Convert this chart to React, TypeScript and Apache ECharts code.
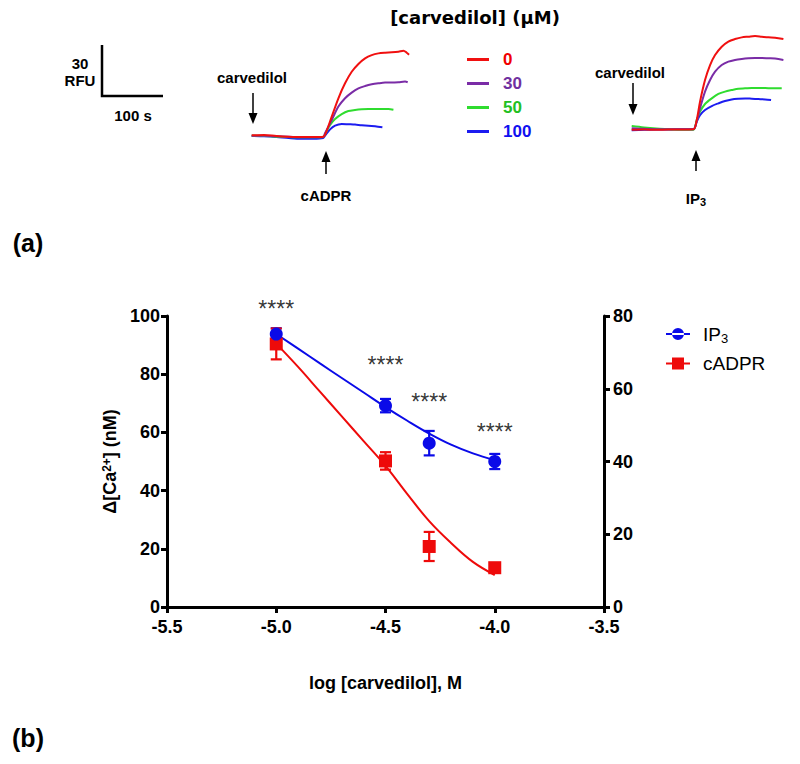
import React, { useEffect, useRef } from "react";
import * as echarts from "echarts";

// ---------- Panel (b): dose-response ----------
const logConc = [-5.0, -4.5, -4.3, -4.0];
const ip3Mean = [93.8, 69.2, 56.3, 50.0];
const ip3Sem = [2.0, 2.3, 4.2, 2.6];
const cadprMean = [90.4, 50.2, 20.8, 13.5];
const cadprSem = [5.3, 3.0, 5.0, 1.0];
const fitX = [-5.0, -4.9, -4.8, -4.7, -4.6, -4.5, -4.4, -4.3, -4.2, -4.1, -4.0];
const ip3Fit = [93.8, 88.8, 83.7, 78.7, 73.7, 68.7, 64.0, 59.6, 55.8, 52.8, 50.5];
const cadprFit = [90.5, 82.5, 74.0, 65.5, 57.0, 48.5, 38.8, 29.5, 22.0, 15.5, 11.0];
const starX = [-5.0, -4.5, -4.3, -4.0];
const starY = [102.3, 83.3, 70.3, 60.3];
const starText = ["****", "****", "****", "****"];
const xTicks = { min: -5.5, max: -3.5, interval: 0.5 };
const leftTicks = { min: 0, max: 100, interval: 20 };
const rightTicks = { min: 0, max: 80, interval: 20 };

// ---------- Panel (a): fluorescence traces [time s, RFU] ----------
const concLabels = ["0", "30", "50", "100"];
const cadprTrace0: [number, number][] = [[0, 0.4], [20, 0.6], [40, 0], [60, -0.4], [80, -0.6], [100, -0.6], [116, -0.4], [119, 0.6], [129.9, 11.4], [140.7, 22.2], [151.5, 31.0], [162.3, 37.8], [173.2, 42.4], [184, 45.7], [194.8, 47.6], [205.6, 48.6], [216.5, 49.0], [227.3, 49.2], [238.1, 49.6], [246.2, 50.2], [251.6, 49.0], [255.4, 47.8]];
const cadprTrace30: [number, number][] = [[0, 0.2], [20, 0.2], [40, -0.2], [60, -0.4], [80, -0.8], [100, -0.8], [116, -0.6], [119, 1.6], [129.9, 9.4], [140.7, 17.3], [151.5, 22.2], [162.3, 25.5], [173.2, 28.0], [184, 29.4], [194.8, 30.4], [205.6, 31.0], [216.5, 31.4], [227.3, 31.4], [238.1, 31.6], [248.9, 32.0], [253.2, 31.6]];
const cadprTrace50: [number, number][] = [[0, 0.2], [20, 0], [40, -0.4], [60, -0.6], [80, -0.8], [100, -0.8], [116, -0.6], [119, 1.0], [127.2, 6.5], [135.3, 10.0], [146.1, 12.9], [156.9, 14.7], [167.7, 15.3], [178.6, 15.7], [189.4, 15.9], [200.2, 15.9], [211, 15.9], [221.9, 15.9], [230, 15.5]];
const cadprTrace100: [number, number][] = [[0, 0], [20, -0.2], [40, -0.6], [60, -1.2], [80, -1.6], [100, -1.6], [116, -1.2], [119, 0.2], [127.2, 3.9], [135.3, 6.1], [146.1, 7.1], [156.9, 6.9], [167.7, 6.7], [178.6, 6.3], [189.4, 6.1], [200.2, 5.7], [212.1, 5.1]];
const ip3Trace0: [number, number][] = [[0, -0.2], [20, 0], [40, -0.2], [60, 0], [80, 0], [100.1, 0.1], [105.5, 5.6], [110.9, 16.4], [119, 29.1], [127.2, 37.9], [135.3, 43.8], [146.1, 48.7], [156.9, 51.7], [167.7, 53.2], [178.6, 54.2], [189.4, 54.6], [200.2, 55.0], [211, 54.6], [221.9, 54.2], [232.7, 54.0], [246.2, 53.2]];
const ip3Trace30: [number, number][] = [[0, 0.8], [20, 0.4], [40, 0.2], [60, 0.2], [80, 0.2], [100.1, 0.1], [105.5, 4.6], [110.9, 12.5], [119, 22.3], [127.2, 29.1], [135.3, 34.0], [146.1, 37.9], [156.9, 39.9], [167.7, 40.9], [178.6, 41.5], [189.4, 41.9], [200.2, 42.1], [211, 42.1], [221.9, 41.9], [232.7, 41.7], [246.2, 40.9]];
const ip3Trace50: [number, number][] = [[0, 2.0], [20, 1.2], [40, 0.6], [60, 0.2], [80, -0.2], [100.1, -0.2], [105.5, 5.6], [110.9, 10.5], [119, 15.0], [129.9, 18.3], [140.7, 20.9], [151.5, 22.3], [162.3, 23.2], [173.2, 24.0], [184, 24.2], [194.8, 24.4], [205.6, 24.4], [216.5, 24.4], [227.3, 24.2], [243.5, 24.2]];
const ip3Trace100: [number, number][] = [[0, -0.4], [20, -0.2], [40, 0], [60, 0], [80, 0.2], [100.1, 0.2], [105.5, 4.6], [110.9, 8.5], [119, 11.5], [129.9, 13.8], [140.7, 15.4], [151.5, 16.8], [162.3, 17.7], [173.2, 18.1], [184, 18.3], [194.8, 18.1], [205.6, 17.9], [216.5, 17.7], [226.2, 17.4]];

const traceColors = ["#f01010", "#7a2ca6", "#2fdc2f", "#1c1cf0"];
const legendTextColors = ["#f00000", "#7030a0", "#22c022", "#1010f0"];
const BLUE = "#0a0ae8";
const RED = "#ee0a0a";
const FONT = "Liberation Sans";

export default function App() {
  const ref = useRef<HTMLDivElement>(null);
  useEffect(() => {
    if (!ref.current) return;
    const chart = echarts.init(ref.current, undefined, { renderer: "svg" });

    const errData = (means: number[], sems: number[]) =>
      logConc.map((x, i) => [x, means[i] - sems[i], means[i] + sems[i]]);

    const errSeries = (name: string, means: number[], sems: number[], color: string) => ({
      type: "custom",
      name,
      xAxisIndex: 0,
      yAxisIndex: 0,
      silent: true,
      z: 3,
      data: errData(means, sems),
      renderItem: (params: any, api: any) => {
        const x = api.value(0);
        const lo = api.coord([x, api.value(1)]);
        const hi = api.coord([x, api.value(2)]);
        const hw = 5.5;
        const st = { stroke: color, lineWidth: 2.2, opacity: 1 };
        return {
          type: "group",
          children: [
            { type: "line", shape: { x1: lo[0], y1: lo[1], x2: hi[0], y2: hi[1] }, style: st },
            { type: "line", shape: { x1: lo[0] - hw, y1: lo[1], x2: lo[0] + hw, y2: lo[1] }, style: st },
            { type: "line", shape: { x1: hi[0] - hw, y1: hi[1], x2: hi[0] + hw, y2: hi[1] }, style: st },
          ],
        };
      },
    });

    const traceSeries = (data: [number, number][], idx: number, gridIdx: number) => ({
      type: "line",
      name: concLabels[idx],
      xAxisIndex: gridIdx,
      yAxisIndex: gridIdx + 1,
      data,
      symbol: "none",
      smooth: 0.3,
      silent: true,
      lineStyle: { color: traceColors[idx], width: 2 },
      itemStyle: { color: traceColors[idx] },
    });

    const axisLine = { show: true, lineStyle: { color: "#000", width: 3 } };
    const axisTick = { show: true, length: 6, lineStyle: { color: "#000", width: 3 } };
    const axLabel = { color: "#000", fontSize: 18, fontWeight: "bold", fontFamily: FONT };

    const txt = (text: string, x: number, y: number, size = 15, extra: any = {}) => ({
      type: "text",
      x,
      y,
      silent: true,
      style: {
        text,
        fill: "#000",
        fontSize: size,
        fontWeight: "bold",
        fontFamily: FONT,
        align: "center",
        verticalAlign: "middle",
        ...extra,
      },
    });
    const arrowDown = (x: number, y1: number, y2: number) => [
      { type: "line", silent: true, shape: { x1: x, y1, x2: x, y2: y2 - 10 }, style: { stroke: "#000", lineWidth: 1.5 } },
      { type: "polygon", silent: true, shape: { points: [[x - 4.5, y2 - 11], [x + 4.5, y2 - 11], [x, y2]] }, style: { fill: "#000" } },
    ];
    const arrowUp = (x: number, y1: number, y2: number) => [
      { type: "line", silent: true, shape: { x1: x, y1: y1 + 10, x2: x, y2 }, style: { stroke: "#000", lineWidth: 1.5 } },
      { type: "polygon", silent: true, shape: { points: [[x - 4.5, y1 + 11], [x + 4.5, y1 + 11], [x, y1]] }, style: { fill: "#000" } },
    ];

    const option: any = {
      animation: false,
      backgroundColor: "#fff",
      textStyle: { fontFamily: FONT },
      grid: [
        { left: 167, top: 316, width: 437, height: 291, containLabel: false, outerBoundsMode: "none" },
        { left: 251.7, top: 42.5, width: 160.2, height: 102, containLabel: false, outerBoundsMode: "none" },
        { left: 631.7, top: 27.5, width: 160.2, height: 110.5, containLabel: false, outerBoundsMode: "none" },
      ],
      xAxis: [
        {
          type: "value",
          gridIndex: 0,
          min: xTicks.min,
          max: xTicks.max,
          interval: xTicks.interval,
          axisLine,
          axisTick,
          splitLine: { show: false },
          axisLabel: { ...axLabel, margin: 11, formatter: (v: number) => v.toFixed(1) },
          name: "log [carvedilol], M",
          nameLocation: "middle",
          nameGap: 67,
          nameTextStyle: { color: "#000", fontSize: 18, fontWeight: "bold", fontFamily: FONT, verticalAlign: "top" },
        },
        { type: "value", gridIndex: 1, min: 0, max: 260, show: false },
        { type: "value", gridIndex: 2, min: 0, max: 260, show: false },
      ],
      yAxis: [
        {
          type: "value",
          gridIndex: 0,
          position: "left",
          min: leftTicks.min,
          max: leftTicks.max,
          interval: leftTicks.interval,
          axisLine,
          axisTick,
          splitLine: { show: false },
          axisLabel: { ...axLabel, margin: 7 },
          name: "{a|Δ[Ca}{s|2+}{a|] (nM)}",
          nameLocation: "middle",
          nameGap: 37,
          nameRotate: 90,
          nameTextStyle: {
            color: "#000",
            rich: {
              a: { fontSize: 18, fontWeight: "bold", fontFamily: FONT, color: "#000" },
              s: { fontSize: 12, fontWeight: "bold", fontFamily: FONT, color: "#000", verticalAlign: "top", padding: [0, 0, 6, 0] },
            },
          },
        },
        {
          type: "value",
          gridIndex: 0,
          position: "right",
          min: rightTicks.min,
          max: rightTicks.max,
          interval: rightTicks.interval,
          axisLine,
          axisTick,
          splitLine: { show: false },
          axisLabel: { ...axLabel, margin: 9 },
        },
        { type: "value", gridIndex: 1, min: -5, max: 55, show: false },
        { type: "value", gridIndex: 2, min: -5, max: 60, show: false },
      ],
      legend: [
        {
          data: concLabels.map((n, i) => ({ name: n, textStyle: { color: legendTextColors[i] } })),
          orient: "vertical",
          left: 467,
          top: 51,
          padding: 0,
          icon: "rect",
          itemWidth: 22,
          itemHeight: 3,
          itemGap: 7,
          selectedMode: false,
          textStyle: { fontSize: 17, fontWeight: "bold", fontFamily: FONT, lineHeight: 17, padding: [0, 0, 0, 9] },
        },
        {
          data: [
            { name: "IP3", icon: "path://M0,5h24v2h-24z M6,6a6,6 0 1,0 12,0a6,6 0 1,0 -12,0z", itemStyle: { color: BLUE } },
            { name: "cADPR", icon: "path://M0,5h24v2h-24z M6,0h12v12h-12z", itemStyle: { color: RED } },
          ],
          orient: "vertical",
          left: 666,
          top: 324,
          padding: 0,
          itemWidth: 24,
          itemHeight: 12,
          itemGap: 9,
          selectedMode: false,
          formatter: (name: string) => (name === "IP3" ? "{n|IP}{s|3}" : "{n|cADPR}"),
          textStyle: {
            color: "#000",
            padding: [0, 0, 0, 8],
            rich: {
              n: { fontSize: 19, fontFamily: FONT, color: "#000", lineHeight: 22 },
              s: { fontSize: 13, fontFamily: FONT, color: "#000", verticalAlign: "bottom", lineHeight: 22, padding: [8, 0, 0, 0] },
            },
          },
        },
      ],
      series: [
        traceSeries(cadprTrace100, 3, 1),
        traceSeries(cadprTrace50, 2, 1),
        traceSeries(cadprTrace30, 1, 1),
        traceSeries(cadprTrace0, 0, 1),
        traceSeries(ip3Trace100, 3, 2),
        traceSeries(ip3Trace50, 2, 2),
        traceSeries(ip3Trace30, 1, 2),
        traceSeries(ip3Trace0, 0, 2),
        {
          type: "line",
          name: "IP3 fit",
          xAxisIndex: 0,
          yAxisIndex: 0,
          data: fitX.map((x, i) => [x, ip3Fit[i]]),
          symbol: "none",
          smooth: 0.4,
          silent: true,
          z: 2,
          lineStyle: { color: BLUE, width: 2 },
        },
        {
          type: "line",
          name: "cADPR fit",
          xAxisIndex: 0,
          yAxisIndex: 0,
          data: fitX.map((x, i) => [x, cadprFit[i]]),
          symbol: "none",
          smooth: 0.4,
          silent: true,
          z: 2,
          lineStyle: { color: RED, width: 2 },
        },
        errSeries("IP3 err", ip3Mean, ip3Sem, BLUE),
        errSeries("cADPR err", cadprMean, cadprSem, RED),
        {
          type: "scatter",
          name: "cADPR",
          xAxisIndex: 0,
          yAxisIndex: 0,
          data: logConc.map((x, i) => [x, cadprMean[i]]),
          symbol: "rect",
          symbolSize: 13,
          z: 4,
          itemStyle: { color: RED, opacity: 1 },
        },
        {
          type: "scatter",
          name: "IP3",
          xAxisIndex: 0,
          yAxisIndex: 0,
          data: logConc.map((x, i) => [x, ip3Mean[i]]),
          symbol: "circle",
          symbolSize: 13,
          z: 5,
          itemStyle: { color: BLUE, opacity: 1 },
        },
        {
          type: "scatter",
          name: "significance",
          xAxisIndex: 0,
          yAxisIndex: 0,
          clip: false,
          silent: true,
          data: starX.map((x, i) => ({ value: [x, starY[i]], label: { formatter: starText[i] } })),
          symbol: "circle",
          symbolSize: 1,
          itemStyle: { color: "rgba(0,0,0,0)" },
          label: { show: true, position: "inside", color: "#000", fontSize: 23, fontFamily: FONT },
          z: 6,
        },
      ],
      graphic: [
        { type: "polyline", silent: true, shape: { points: [[102, 45], [102, 96], [163, 96]] }, style: { stroke: "#000", lineWidth: 2.5, fill: "none" } },
        txt("30", 80, 63, 15),
        txt("RFU", 80, 80, 15),
        txt("100 s", 133, 115, 15),
        txt("carvedilol", 252, 77, 15),
        ...arrowDown(253, 93, 124),
        ...arrowUp(326, 151, 174),
        txt("cADPR", 326, 195, 15),
        txt("carvedilol", 630, 72, 15),
        ...arrowDown(633, 83, 115),
        ...arrowUp(696, 150, 171),
        {
          type: "text",
          x: 696,
          y: 198,
          silent: true,
          style: {
            text: "{a|IP}{b|3}",
            align: "center",
            verticalAlign: "middle",
            rich: {
              a: { fontSize: 15, fontWeight: "bold", fontFamily: FONT, fill: "#000", color: "#000", lineHeight: 18 },
              b: { fontSize: 11, fontWeight: "bold", fontFamily: FONT, fill: "#000", color: "#000", verticalAlign: "bottom", lineHeight: 18, padding: [6, 0, 0, 0] },
            },
          },
        },
        txt("[carvedilol] (µM)", 475, 17, 18, { fontFamily: "DejaVu Sans" }),
        txt("(a)", 28, 243, 25),
        txt("(b)", 28, 738, 25),
      ],
    };

    chart.setOption(option);
    return () => chart.dispose();
  }, []);

  return (
    <div
      ref={ref}
      style={{ position: "absolute", left: 0, top: 0, width: 800, height: 764, background: "#fff" }}
    />
  );
}
